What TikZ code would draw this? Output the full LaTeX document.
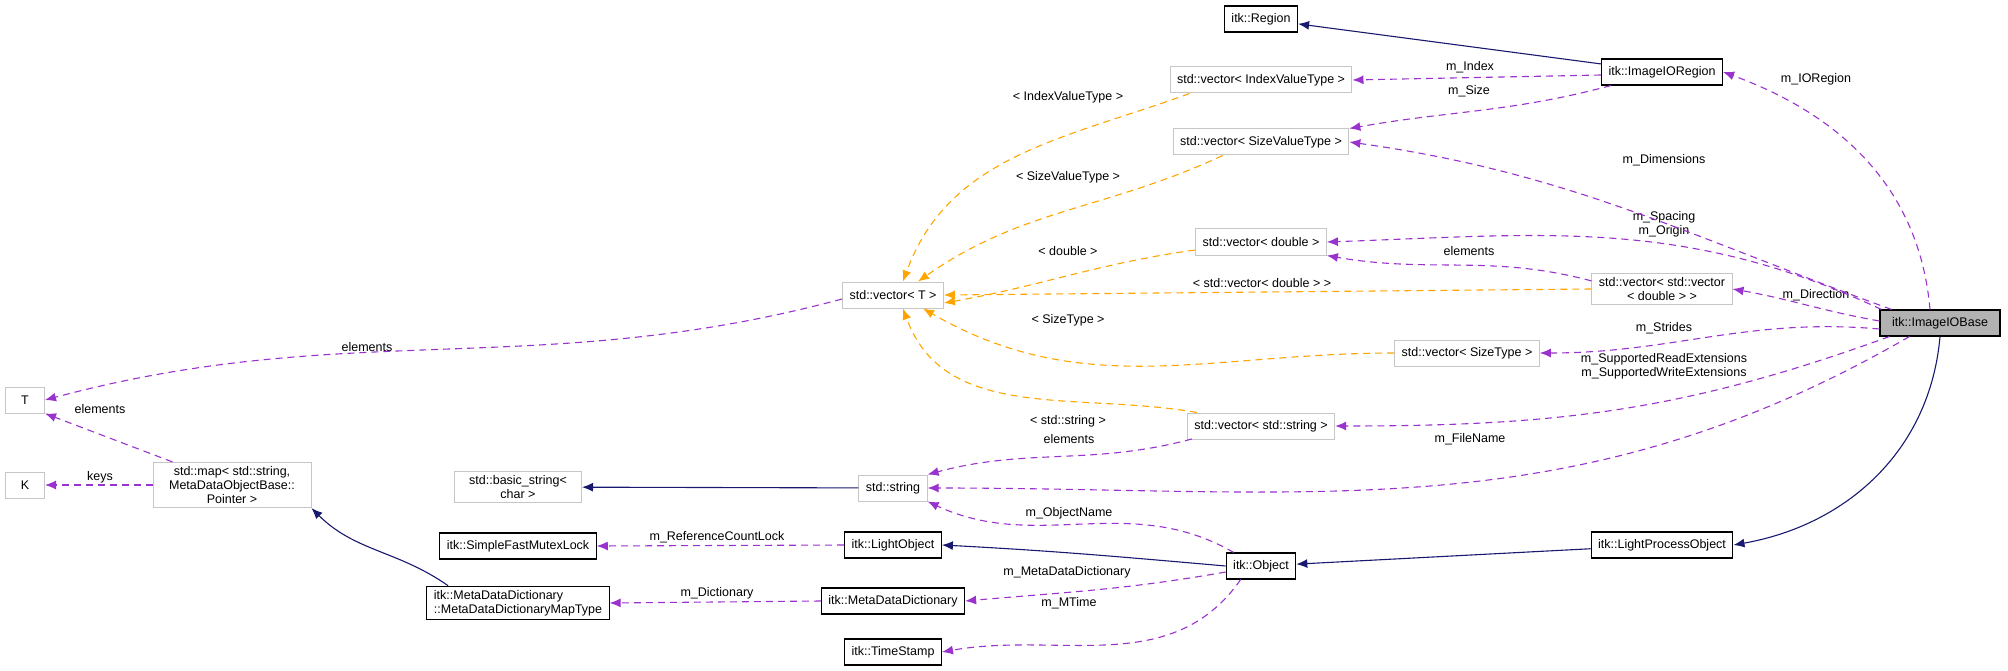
\documentclass[tikz,border=0pt]{standalone}
\usepackage{fontspec}
\setmainfont{Liberation Sans}
\usetikzlibrary{arrows.meta}
\definecolor{navyline}{HTML}{191970}
\definecolor{purpleline}{HTML}{9A32CD}
\definecolor{orangeline}{HTML}{FFA500}
\tikzset{
  cls/.style={draw=black, line width=1.1pt, inner xsep=7pt, inner ysep=4pt, minimum height=26pt, font=\fontsize{12.5}{14}\selectfont},
  tpl/.style={draw=gray!45, line width=1pt, inner xsep=7pt, inner ysep=4pt, minimum height=26pt, align=center, font=\fontsize{12.5}{14}\selectfont},
  lbl/.style={font=\fontsize{12.5}{14}\selectfont, align=center, inner sep=1pt},
  inh/.style={draw=navyline, line width=1.1pt, -{Latex[length=11pt,width=9pt]}},
  use/.style={draw=purpleline, line width=1.1pt, dash pattern=on 7pt off 5pt, -{Latex[length=11pt,width=9pt]}},
  tmp/.style={draw=orangeline, line width=1.1pt, dash pattern=on 7pt off 5pt, -{Latex[length=11pt,width=9pt]}}
}
\begin{document}
\begin{tikzpicture}[x=1pt,y=-1pt]
  \useasboundingbox (0,0) rectangle (2008,671);

  % nodes
  \node[cls] at (1261,19) (region) {itk::Region};
  \node[cls] at (1662,72) (ioregion) {itk::ImageIORegion};
  \node[tpl] at (1261,80) (vidx) {std::vector< IndexValueType >};
  \node[tpl] at (1261,142) (vsize) {std::vector< SizeValueType >};
  \node[tpl] at (1261,242) (vdbl) {std::vector< double >};
  \node[tpl] at (893,295) (vT) {std::vector< T >};
  \node[tpl] at (1662,289) (vvec) {std::vector< std::vector\\< double > >};
  \node[cls, fill=gray!60, minimum width=120pt] at (1940,323) (iobase) {itk::ImageIOBase};
  \node[tpl] at (1467,353) (vst) {std::vector< SizeType >};
  \node[tpl] at (1261,426) (vstr) {std::vector< std::string >};
  \node[tpl, minimum width=39pt] at (25,400) (T) {T};
  \node[tpl, minimum width=39pt] at (25,485) (K) {K};
  \node[tpl, minimum width=158pt] at (232,485) (map) {std::map< std::string,\\MetaDataObjectBase::\\Pointer >};
  \node[tpl, minimum width=127pt] at (518,487) (bstr) {std::basic\_string<\\char >};
  \node[tpl] at (893,488) (str) {std::string};
  \node[cls] at (518,546) (mutex) {itk::SimpleFastMutexLock};
  \node[cls] at (893,545) (light) {itk::LightObject};
  \node[cls, align=left] at (518,603) (maptype) {itk::MetaDataDictionary\\::MetaDataDictionaryMapType};
  \node[cls] at (893,601) (mdd) {itk::MetaDataDictionary};
  \node[cls] at (1261,566) (object) {itk::Object};
  \node[cls] at (893,652) (stamp) {itk::TimeStamp};
  \node[cls] at (1662,545) (lpo) {itk::LightProcessObject};

  % labels
  \node[lbl] at (1470,67) (lidx) {m\_Index};
  \node[lbl] at (1469,91) (lsz) {m\_Size};
  \node[lbl] at (1816,79) (lior) {m\_IORegion};
  \node[lbl] at (1664,160) (ldim) {m\_Dimensions};
  \node[lbl] at (1664,224) (lsp) {m\_Spacing\\m\_Origin};
  \node[lbl] at (1469,251) (lel1) {elements};
  \node[lbl] at (1816,295) (ldir) {m\_Direction};
  \node[lbl] at (1664,328) (lstr) {m\_Strides};
  \node[lbl] at (1664,366) (lext) {m\_SupportedReadExtensions\\m\_SupportedWriteExtensions};
  \node[lbl] at (1470,439) (lfn) {m\_FileName};
  \node[lbl] at (1069,439) (lel2) {elements};
  \node[lbl] at (1069,513) (lon) {m\_ObjectName};
  \node[lbl] at (717,537) (lrcl) {m\_ReferenceCountLock};
  \node[lbl] at (1067,572) (lmdd) {m\_MetaDataDictionary};
  \node[lbl] at (717,593) (ldic) {m\_Dictionary};
  \node[lbl] at (1069,603) (lmt) {m\_MTime};
  \node[lbl] at (367,347) (lel3) {elements};
  \node[lbl] at (100,409) (lel4) {elements};
  \node[lbl] at (100,477) (lkeys) {keys};
  \node[lbl] at (1068,97) (lt1) {< IndexValueType >};
  \node[lbl] at (1068,177) (lt2) {< SizeValueType >};
  \node[lbl] at (1068,251) (lt3) {< double >};
  \node[lbl] at (1262,283) (lt4) {< std::vector< double > >};
  \node[lbl] at (1068,320) (lt5) {< SizeType >};
  \node[lbl] at (1068,421) (lt6) {< std::string >};

  % inheritance
  \draw[inh] (ioregion) -- (region);
  \draw[inh] (iobase.south) to[out=-95,in=10] (lpo.east);
  \draw[inh] (lpo) -- (object);
  \draw[inh] (object.west) to[out=175,in=-3] (light.east);
  \draw[inh] (str) -- (bstr);
  \draw[inh] (maptype.north) ++(-70,0) to[out=145,in=-45] (map.south east);

  % usage
  \draw[use] (ioregion.west) ++(0,3) -- (vidx.east);
  \draw[use] (ioregion.south west) ++(10,0) to[out=-165,in=10] (vsize.north east);
  \draw[use] (iobase.north) ++(-10,0) to[out=95,in=-20] (ioregion.east);
  \draw[use] (iobase.north west) ++(12,0) to[out=160,in=-8] (vsize.east);
  \draw[use] (iobase.north west) ++(2,0) to[out=155,in=2] (vdbl.east);
  \draw[use] (vvec.north west) ++(0,8) to[out=165,in=-10] (vdbl.south east);
  \draw[use] (iobase.west) ++(0,-2) to[out=170,in=-10] (vvec.east);
  \draw[use] (iobase.west) ++(0,6) to[out=175,in=0] (vst.east);
  \draw[use] (iobase.south west) ++(10,0) to[out=-160,in=0] (vstr.east);
  \draw[use] (iobase.south west) ++(30,0) to[out=-150,in=0] (str.east);
  \draw[use] (vstr.west) ++(5,13) to[out=-165,in=15] (str.north east);
  \draw[use] (object.north west) ++(8,0) to[out=150,in=-25] (str.south east);
  \draw[use] (light.west) -- (mutex.east);
  \draw[use] (object.west) ++(0,6) to[out=-170,in=5] (mdd.east);
  \draw[use] (mdd.west) -- (maptype.east);
  \draw[use] (object.south west) ++(15,0) to[out=-125,in=10] (stamp.east);
  \draw[use] (vT.west) ++(0,4) to[out=195,in=15] (T.east);
  \draw[use] (map.north west) ++(20,0) -- (T.south east);
  \draw[use] (map.west) -- (K.east);

  % template instances
  \draw[tmp] (vidx.south west) ++(20,0) to[out=-160,in=70] ([xshift=10pt]vT.north);
  \draw[tmp] (vsize.south west) ++(50,0) to[out=-155,in=35] ([xshift=25pt]vT.north);
  \draw[tmp] (vdbl.west) ++(0,8) to[out=188,in=10] ([yshift=-8pt]vT.east);
  \draw[tmp] (vvec.west) -- (vT.east);
  \draw[tmp] (vst.west) to[out=180,in=-30] ([xshift=30pt]vT.south);
  \draw[tmp] (vstr.north west) ++(10,0) to[out=170,in=-70] ([xshift=10pt]vT.south);
\end{tikzpicture}
\end{document}
